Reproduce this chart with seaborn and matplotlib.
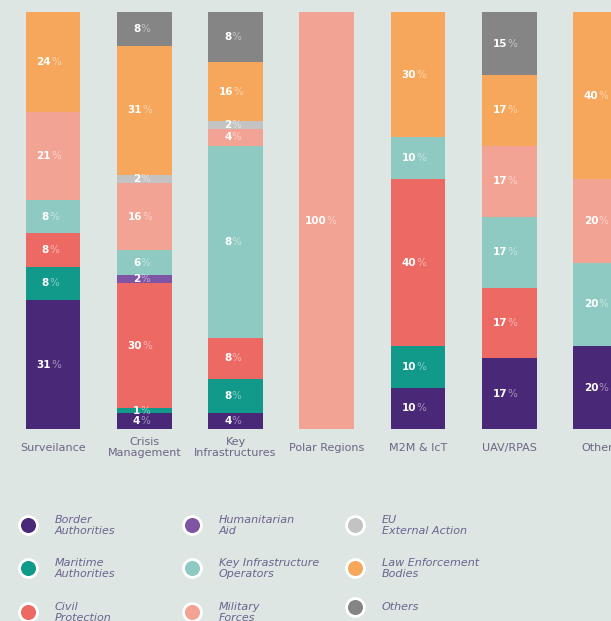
import matplotlib
matplotlib.use("Agg")
import matplotlib.pyplot as plt
import pandas as pd
import seaborn as sns

# Sectors (bars) and stakeholder groups (stack segments, bottom to top)
sectors = ["Surveilance", "Crisis\nManagement", "Key\nInfrastructures", "Polar Regions",
           "M2M & IcT", "UAV/RPAS", "Others"]
groups = ["Border\nAuthorities", "Maritime\nAuthorities", "Civil\nProtection",
          "Humanitarian\nAid", "Key Infrastructure\nOperators", "Military\nForces",
          "EU\nExternal Action", "Law Enforcement\nBodies", "Others"]

# Share of each group per sector (%)
border = [31, 4, 4, 0, 10, 17, 20]
maritime = [8, 1, 8, 0, 10, 0, 0]
civil = [8, 30, 10, 0, 40, 17, 0]
humanitarian = [0, 2, 0, 0, 0, 0, 0]
key_infra = [8, 6, 46, 0, 10, 17, 20]
military = [21, 16, 4, 100, 0, 17, 20]
eu_external = [0, 2, 2, 0, 0, 0, 0]
law_enforcement = [24, 31, 14, 0, 30, 17, 40]
others = [0, 8, 12, 0, 0, 15, 0]

# The Key Infrastructures bar prints different numbers than its heights
key_infra_bar_printed = [4, 8, 8, 0, 8, 4, 2, 16, 8]

colors = ["#4a2878", "#11998a", "#ec6a63", "#7f55a3", "#8ecac1",
          "#f3a393", "#c3c3c3", "#f6a75b", "#858585"]
bg = "#dde6e2"
label_color = "#6b6585"

shares = [border, maritime, civil, humanitarian, key_infra,
          military, eu_external, law_enforcement, others]

rows = []
for g, vals in zip(groups, shares):
    for s, v in zip(sectors, vals):
        rows.append({"sector": s, "group": g, "share": v})
df = pd.DataFrame(rows)
df["sector"] = pd.Categorical(df["sector"], categories=sectors, ordered=True)

sns.set_theme(style="white")
plt.rcParams["font.family"] = ["DejaVu Sans"]

fig = plt.figure(figsize=(6.11, 6.21), dpi=100, facecolor=bg)
ax = fig.add_axes([0, (621 - 429.3) / 621, 1, 417 / 621])
ax.set_facecolor(bg)

# first hue level ends on top of the stack, so feed the groups reversed
sns.histplot(data=df, x="sector", hue="group", weights="share",
             hue_order=groups[::-1], palette=dict(zip(groups, colors)),
             multiple="stack", discrete=True, shrink=0.6, alpha=1,
             linewidth=0, legend=False, ax=ax)

ax.set_xlim(-0.581, 6.115)
ax.set_ylim(0, 100)
ax.axis("off")

# value labels: bold number + faint percent sign
for i in range(len(sectors)):
    cum = 0
    for j, vals in enumerate(shares):
        v = vals[i]
        if v <= 0:
            cum += v
            continue
        printed = key_infra_bar_printed[j] if i == 2 else v
        num = str(printed)
        split = 2 * (len(num) - 3) * 0.72
        ax.annotate(num, (i, cum + v / 2), xytext=(split, 0), textcoords="offset points",
                    ha="right", va="center", fontsize=7.5, fontweight="bold", color="white")
        ax.annotate("%", (i, cum + v / 2), xytext=(split, 0), textcoords="offset points",
                    ha="left", va="center", fontsize=7.5, color="white", alpha=0.5)
        cum += v

# category labels under the bars
for i, s in enumerate(sectors):
    ax.text(i, -18.3 / 417, s, transform=ax.get_xaxis_transform(), ha="center", va="center",
            fontsize=8, color=label_color, linespacing=1.05)

# legend drawn by hand in pixel space
lax = fig.add_axes([0, 0, 1, 1])
lax.patch.set_alpha(0)
lax.set_xlim(0, 611)
lax.set_ylim(621, 0)
lax.axis("off")
col_x = [28, 192, 355]
row_y = [525, 568, 612]
for k, (g, c) in enumerate(zip(groups, colors)):
    cx, cy = col_x[k // 3], row_y[k % 3]
    if g == "Others":
        cy -= 5
    lax.scatter([cx], [cy], s=165, color=c, edgecolor="white", linewidth=2, zorder=3)
    lax.text(cx + 27, cy + 0.5, g, ha="left", va="center", fontsize=8, style="italic",
             color="#6a6390", linespacing=1.1)

plt.savefig("out.png", dpi=100, facecolor=bg)
